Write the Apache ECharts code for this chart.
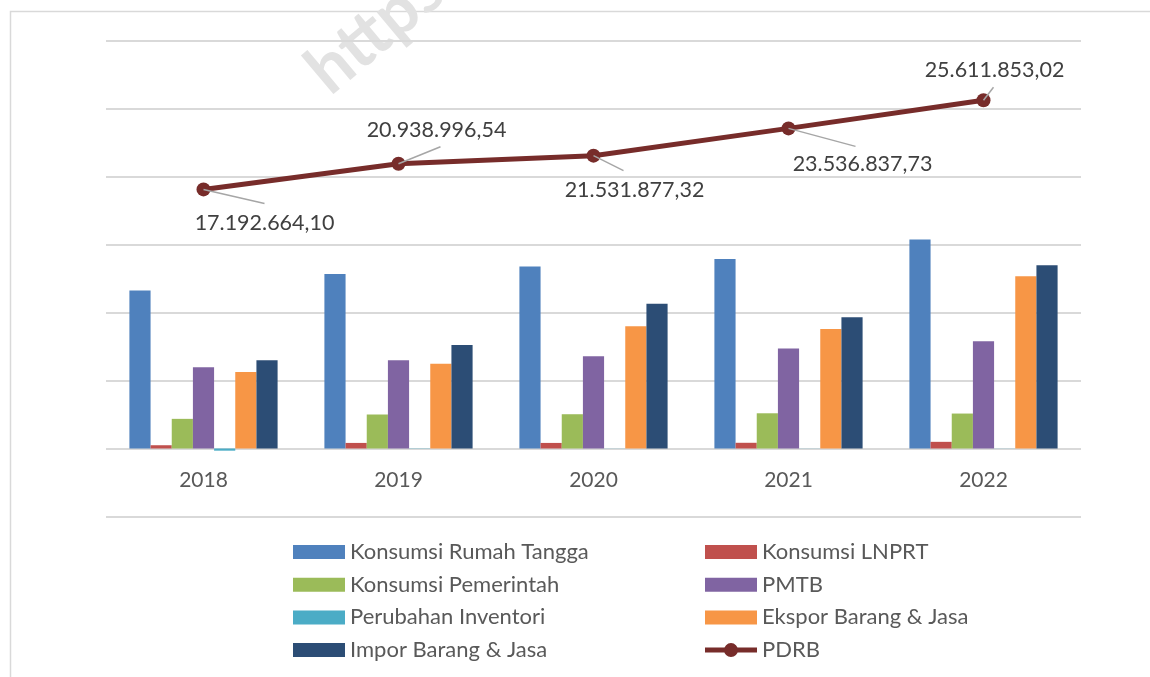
<!DOCTYPE html>
<html>
<head>
<meta charset="utf-8">
<script src="https://cdn.jsdelivr.net/npm/echarts@6/dist/echarts.min.js"></script>
<style>
  html, body { margin: 0; padding: 0; background: #fff; }
  #chart { width: 1150px; height: 677px; }
</style>
</head>
<body>
<div id="chart"></div>
<script>
// PDRB menurut pengeluaran, 2018-2022
var years = ['2018', '2019', '2020', '2021', '2022'];
var konsumsiRT = [11610000, 12830000, 13390000, 13930000, 15360000];
var konsumsiLNPRT = [240000, 410000, 410000, 420000, 490000];
var konsumsiPemerintah = [2180000, 2500000, 2520000, 2590000, 2570000];
var pmtb = [5970000, 6490000, 6780000, 7350000, 7880000];
var perubahanInventori = [-160000, 20000, 10000, 10000, 10000];
var ekspor = [5630000, 6240000, 8990000, 8790000, 12660000];
var impor = [6490000, 7610000, 10650000, 9650000, 13470000];
// plotted PDRB (2018 point sits higher than its printed label in the source)
var pdrb = [19050000, 20938996.54, 21531877.32, 23536837.73, 25611853.02];
// printed data labels
var pdrbLabel = [17192664.10, 20938996.54, 21531877.32, 23536837.73, 25611853.02];

var FONT = 'Lato';

function fmtId(v) {
    var p = v.toFixed(2).split('.');
    return p[0].replace(/\B(?=(\d{3})+(?!\d))/g, '.') + ',' + p[1];
}

// label shifts from each point (px), like the hand-moved excel labels
var labelShift = [[61, 34], [38, -34], [41, 34], [74, 36], [11, -30]];
// where each grey leader line ends, relative to its point (px)
var leaderEnd = [[61, 14], [42, -17], [30, 15], [67, 18], [10, -13]];

// legend icon for the line: thick stroke with a dot in the middle
var lineIcon = 'path://M0,4.5H52V9.5H0Z M19,7a7,7 0 1,1 14,0a7,7 0 1,1 -14,0Z';

function bar(name, data, color) {
    return {
        name: name,
        type: 'bar',
        data: data,
        barGap: '0%',
        barCategoryGap: '24%',
        itemStyle: { color: color },
        emphasis: { disabled: true }
    };
}

function legendCol(left, items) {
    return {
        orient: 'vertical',
        left: left, top: 541,
        padding: 0,
        itemWidth: 52, itemHeight: 14, itemGap: 10.7,
        textStyle: { color: '#595959', fontSize: 22, lineHeight: 22, fontFamily: FONT },
        data: items
    };
}

var chart = echarts.init(document.getElementById('chart'));

chart.setOption({
    animation: false,
    textStyle: { fontFamily: FONT },
    graphic: [
        {
            id: 'frame',
            type: 'rect',
            shape: { x: 10.5, y: 11.5, width: 1300, height: 800 },
            style: { fill: 'none', stroke: '#D9D9D9', lineWidth: 1.5 },
            silent: true, z: -10
        },
        {
            id: 'watermark',
            type: 'text',
            x: 338, y: 106,
            rotation: 40 * Math.PI / 180,
            style: {
                text: 'https://',
                fill: '#E2E2E2',
                font: 'bold 68px Lato',
                textVerticalAlign: 'bottom'
            },
            silent: true, z: -5
        }
    ],
    grid: { left: 106, right: 69, top: 40.5, bottom: 160.5 },
    xAxis: {
        type: 'category',
        data: years,
        axisLine: { show: false, onZero: false },
        axisTick: { show: false },
        axisLabel: { color: '#595959', fontSize: 21, margin: -47, fontFamily: FONT }
    },
    yAxis: {
        type: 'value',
        min: -5000000,
        max: 30000000,
        interval: 5000000,
        axisLabel: { show: false },
        axisLine: { show: false },
        axisTick: { show: false },
        splitLine: { lineStyle: { color: '#D9D9D9', width: 2 } }
    },
    legend: [
        legendCol(293, [
            { name: 'Konsumsi Rumah Tangga', icon: 'rect' },
            { name: 'Konsumsi Pemerintah', icon: 'rect' },
            { name: 'Perubahan Inventori', icon: 'rect' },
            { name: 'Impor Barang & Jasa', icon: 'rect' }
        ]),
        legendCol(705, [
            { name: 'Konsumsi LNPRT', icon: 'rect' },
            { name: 'PMTB', icon: 'rect' },
            { name: 'Ekspor Barang & Jasa', icon: 'rect' },
            { name: 'PDRB', icon: lineIcon }
        ])
    ],
    series: [
        bar('Konsumsi Rumah Tangga', konsumsiRT, '#4F81BD'),
        bar('Konsumsi LNPRT', konsumsiLNPRT, '#C0504D'),
        bar('Konsumsi Pemerintah', konsumsiPemerintah, '#9BBB59'),
        bar('PMTB', pmtb, '#8064A2'),
        bar('Perubahan Inventori', perubahanInventori, '#4BACC6'),
        bar('Ekspor Barang & Jasa', ekspor, '#F79646'),
        bar('Impor Barang & Jasa', impor, '#2C4D75'),
        {
            name: 'PDRB',
            type: 'line',
            data: pdrb,
            z: 5,
            symbol: 'circle',
            symbolSize: 14,
            lineStyle: { color: '#772C2A', width: 5 },
            itemStyle: { color: '#772C2A' },
            emphasis: { disabled: true },
            label: {
                show: true,
                position: 'inside',
                color: '#404040',
                fontSize: 21.5,
                fontFamily: FONT,
                formatter: function (p) { return fmtId(pdrbLabel[p.dataIndex]); }
            },
            labelLayout: function (p) {
                var s = labelShift[p.dataIndex];
                return { dx: s[0], dy: s[1] };
            }
        }
    ]
});

// leader lines from each point toward its moved label
var leaders = pdrb.map(function (v, i) {
    var pt = chart.convertToPixel({ seriesIndex: 7 }, [i, v]);
    return {
        id: 'leader' + i,
        type: 'line',
        shape: { x1: pt[0], y1: pt[1], x2: pt[0] + leaderEnd[i][0], y2: pt[1] + leaderEnd[i][1] },
        style: { stroke: '#A6A6A6', lineWidth: 1.5 },
        silent: true, z: 100
    };
});
chart.setOption({ graphic: leaders });
</script>
</body>
</html>
